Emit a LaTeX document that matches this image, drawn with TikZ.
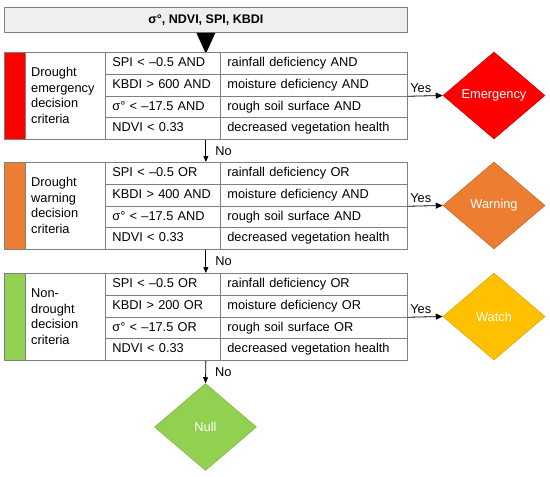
\documentclass[tikz,border=0pt]{standalone}
\usepackage{fontspec}
\setmainfont{Liberation Sans}
\usetikzlibrary{shapes.geometric,arrows.meta}
\definecolor{gline}{HTML}{7F7F7F}
\definecolor{cred}{HTML}{FF0000}
\definecolor{corange}{HTML}{ED7D31}
\definecolor{cgreen}{HTML}{92D050}
\definecolor{cyellow}{HTML}{FFC000}
\definecolor{topfill}{HTML}{EFEFEF}
\begin{document}
\begin{tikzpicture}[x=1pt,y=-1pt,
  every node/.style={font=\fontsize{12.8}{15.5}\selectfont},
  cell/.style={draw=gline, line width=0.75pt, anchor=north west, inner ysep=0pt, minimum height=21.75pt, text height=9pt, text depth=2.5pt, align=left},
  condcell/.style={cell, text width=101pt, inner xsep=7pt, minimum width=115pt},
  desccell/.style={cell, text width=173pt, inner xsep=7pt, minimum width=187pt},
  barcell/.style={draw=gline, line width=0.75pt, anchor=north west, minimum width=21pt, minimum height=87pt, inner sep=0pt},
  labcell/.style={draw=gline, line width=0.75pt, anchor=north west, minimum width=80pt, minimum height=87pt, inner sep=0pt},
  labtext/.style={anchor=west, align=left, inner sep=0pt},
  decision/.style={diamond, minimum width=102pt, minimum height=87pt, inner sep=0pt, text=white, line width=0.5pt},
  noarrow/.style={draw=black, line width=0.8pt, -{Triangle[length=6pt,width=5pt]}},
  yesarrow/.style={draw=black, line width=0.8pt, -{Triangle[length=7pt,width=6pt]}},
  nolabel/.style={right=9pt, inner sep=0pt},
  yeslabel/.style={pos=0.37, above, inner sep=2.5pt}
]
\useasboundingbox[fill=white] (0,0) rectangle (550,477);

% top input box
\node[draw=gline, fill=topfill, line width=0.75pt, anchor=north west, minimum width=403pt, minimum height=25pt, inner sep=0pt, font=\fontsize{12.5}{15}\selectfont\bfseries] (top) at (4,7) {σ°, NDVI, SPI, KBDI};
\fill[black] ([xshift=-9.5pt]top.south) -- ([xshift=9.5pt]top.south) -- ([yshift=-21pt]top.south) -- cycle;

% block 1: emergency
\node[barcell, fill=cred] (ebar) at (4,52) {};
\node[labcell] (elab) at (25,52) {};
\node[labtext] (elabt) at (31,95.5) {Drought\\emergency\\decision\\criteria};
\foreach \i/\c/\d in {0/{SPI < –0.5 AND}/{rainfall deficiency AND},
                      1/{KBDI > 600 AND}/{moisture deficiency AND},
                      2/{σ° < –17.5 AND}/{rough soil surface AND},
                      3/{NDVI < 0.33}/{decreased vegetation health}}{
  \node[condcell] (ec\i) at (105,{52+21.75*\i}) {\c};
  \node[desccell] (ed\i) at (220,{52+21.75*\i}) {\d};
}

% block 2: warning
\node[barcell, fill=corange] (wbar) at (4,162) {};
\node[labcell] (wlab) at (25,162) {};
\node[labtext] (wlabt) at (31,205.5) {Drought\\warning\\decision\\criteria};
\foreach \i/\c/\d in {0/{SPI < –0.5 OR}/{rainfall deficiency OR},
                      1/{KBDI > 400 AND}/{moisture deficiency AND},
                      2/{σ° < –17.5 AND}/{rough soil surface AND},
                      3/{NDVI < 0.33}/{decreased vegetation health}}{
  \node[condcell] (wc\i) at (105,{162+21.75*\i}) {\c};
  \node[desccell] (wd\i) at (220,{162+21.75*\i}) {\d};
}

% block 3: non-drought
\node[barcell, fill=cgreen] (nbar) at (4,273) {};
\node[labcell] (nlab) at (25,273) {};
\node[labtext] (nlabt) at (31,316.5) {Non-\\drought\\decision\\criteria};
\foreach \i/\c/\d in {0/{SPI < –0.5 OR}/{rainfall deficiency OR},
                      1/{KBDI > 200 OR}/{moisture deficiency OR},
                      2/{σ° < –17.5 OR}/{rough soil surface OR},
                      3/{NDVI < 0.33}/{decreased vegetation health}}{
  \node[condcell] (nc\i) at (105,{273+21.75*\i}) {\c};
  \node[desccell] (nd\i) at (220,{273+21.75*\i}) {\d};
}

% decisions
\node[decision, fill=cred, draw=cred!80!black] (emerg) at (494,95.5) {Emergency};
\node[decision, fill=corange, draw=corange!80!black] (warn) at (494,205.5) {Warning};
\node[decision, fill=cyellow, draw=cyellow!85!black] (watch) at (494,316.5) {Watch};
\node[decision, fill=cgreen, draw=cgreen!85!black] (null) at (205.5,427) {Null};

% yes arrows
\draw[yesarrow] (ed1.south east) -- node[yeslabel] {Yes} (emerg.west);
\draw[yesarrow] (wd1.south east) -- node[yeslabel] {Yes} (warn.west);
\draw[yesarrow] (nd1.south east) -- node[yeslabel] {Yes} (watch.west);

% no arrows
\draw[noarrow] (ec3.south -| top.south) -- node[nolabel] {No} (wc0.north -| top.south);
\draw[noarrow] (wc3.south -| top.south) -- node[nolabel] {No} (nc0.north -| top.south);
\draw[noarrow] (nc3.south -| top.south) -- node[nolabel] {No} (null.north);
\end{tikzpicture}
\end{document}
